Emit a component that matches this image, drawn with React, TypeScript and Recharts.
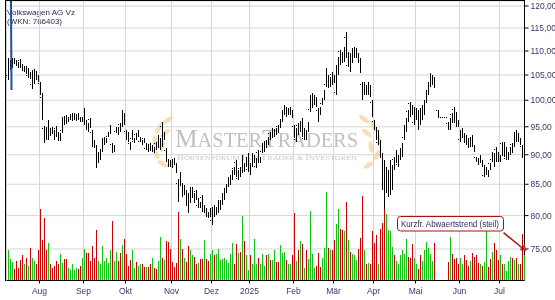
import React from 'react';
import {
  ComposedChart, Bar, Line, XAxis, YAxis, CartesianGrid, ReferenceLine, ReferenceDot,
} from 'recharts';

// Volkswagen AG Vz, daily bars [open, high, low, close]
const ohlc: (number[] | null)[] = [
  // Jul 2024
  [105.0, 108.5, 104.0, 107.6], [106.5, 108.1, 106.0, 107.7], [106.9, 108.5, 106.4, 108.0], [108.2, 108.5, 107.3, 107.6],
  [107.8, 108.1, 106.9, 107.2], [107.4, 107.7, 106.4, 106.7], [107.9, 108.3, 106.4, 106.8], [107.0, 107.3, 106.0, 106.3],
  [105.9, 106.9, 105.6, 106.6], [106.5, 106.9, 105.2, 105.6], [104.9, 106.4, 104.4, 105.9], [105.3, 105.6, 104.2, 104.6],
  [103.1, 106.0, 102.2, 105.2], [104.0, 106.2, 103.2, 105.5], [105.4, 105.8, 104.0, 104.5], [104.7, 105.0, 103.6, 103.9],
  // Aug
  [103.2, 103.6, 101.0, 101.6], [100.5, 101.4, 96.3, 97.0], [94.6, 95.1, 92.1, 92.8], [94.4, 94.9, 92.6, 93.1],
  [93.2, 96.3, 92.6, 95.6], [94.4, 94.7, 93.3, 93.7], [94.6, 94.9, 93.7, 94.0], [94.0, 94.4, 92.6, 93.0],
  [94.7, 95.1, 93.1, 93.5], [93.7, 94.0, 92.4, 92.8], [92.7, 93.9, 92.4, 93.5], [94.3, 96.6, 93.9, 96.1],
  [96.7, 97.0, 95.3, 95.7], [96.9, 97.2, 95.5, 95.9], [96.1, 96.8, 95.9, 96.6], [96.5, 97.4, 96.3, 97.2],
  [96.4, 97.6, 96.1, 97.3], [96.7, 97.6, 96.4, 97.4], [96.4, 97.2, 96.1, 96.9], [97.3, 97.6, 96.3, 96.6],
  [96.6, 96.8, 95.9, 96.1], [96.1, 96.8, 95.9, 96.6],
  // Sep
  [95.9, 98.5, 95.3, 98.0], [96.0, 96.3, 94.4, 94.8], [95.4, 95.7, 94.0, 94.4], [96.3, 96.6, 94.8, 95.1],
  [94.0, 94.4, 91.4, 91.9], [92.4, 92.6, 91.4, 91.7], [91.2, 91.7, 87.7, 88.3], [88.9, 90.5, 88.6, 90.1],
  [89.4, 90.8, 89.1, 90.5], [90.9, 93.0, 90.5, 92.6], [92.0, 93.1, 91.7, 92.9], [92.3, 93.0, 92.1, 92.8],
  [93.3, 94.0, 93.1, 93.8], [94.0, 95.3, 93.7, 95.0], [91.8, 92.1, 90.3, 90.6], [90.7, 91.7, 90.5, 91.4],
  [94.1, 94.9, 93.9, 94.7], [94.6, 94.9, 93.5, 93.8], [95.4, 95.7, 94.0, 94.3], [95.4, 98.1, 94.9, 97.6],
  [97.2, 97.6, 95.3, 95.7],
  // Okt
  [94.1, 94.4, 92.6, 93.0], [93.7, 94.0, 92.2, 92.5], [91.9, 92.2, 90.8, 91.1], [92.9, 94.4, 92.6, 94.0],
  [92.3, 93.0, 92.1, 92.8], [93.6, 93.9, 92.6, 92.9], [93.4, 94.4, 93.1, 94.1], [92.4, 93.1, 92.2, 92.9],
  [92.4, 92.6, 91.7, 91.9], [92.8, 93.0, 92.1, 92.3], [91.1, 92.1, 90.8, 91.8], [91.4, 91.7, 90.5, 90.8],
  [91.8, 92.1, 90.8, 91.1], [90.8, 91.7, 90.5, 91.4], [91.1, 91.3, 90.3, 90.5], [91.9, 92.2, 90.8, 91.1],
  [91.7, 93.5, 91.3, 93.1], [91.2, 93.0, 90.8, 92.6], [95.0, 95.9, 91.3, 92.0], [92.9, 94.0, 92.6, 93.7],
  [90.8, 91.2, 88.7, 89.1], [89.0, 89.3, 87.9, 88.2], [88.9, 89.1, 87.9, 88.1],
  // Nov
  [88.8, 89.1, 87.7, 88.0], [89.2, 89.5, 88.4, 88.7], [88.3, 88.6, 86.8, 87.1], [85.2, 85.9, 82.2, 82.8],
  [85.2, 87.0, 84.9, 86.6], [84.8, 85.2, 83.0, 83.4], [83.6, 84.9, 83.3, 84.6], [83.7, 84.1, 81.5, 82.0],
  [83.1, 83.6, 80.4, 81.0], [82.4, 84.5, 82.0, 84.1], [83.1, 84.5, 82.8, 84.2], [83.3, 83.6, 82.0, 82.3],
  [83.8, 84.1, 82.5, 82.8], [81.5, 82.8, 81.2, 82.5], [82.0, 82.2, 81.2, 81.4], [82.8, 83.3, 80.6, 81.0],
  [80.7, 81.7, 80.4, 81.5], [81.0, 81.2, 79.8, 80.1], [80.4, 80.6, 79.7, 79.9], [80.1, 81.2, 79.8, 80.9],
  // Dez
  [79.2, 81.4, 78.6, 80.9], [81.3, 81.7, 79.8, 80.2], [80.4, 81.4, 80.1, 81.1], [80.8, 82.5, 80.4, 82.1],
  [81.2, 82.5, 80.9, 82.2], [82.0, 83.6, 81.7, 83.3], [82.8, 84.4, 82.5, 84.1], [83.9, 84.9, 83.6, 84.7],
  [84.9, 86.2, 84.6, 85.9], [85.2, 86.5, 84.9, 86.2], [86.0, 87.4, 85.7, 87.1], [87.7, 87.9, 86.5, 86.8],
  [88.7, 89.1, 86.2, 86.7], [86.0, 87.4, 85.7, 87.1], [87.6, 87.9, 86.2, 86.5], [87.3, 90.0, 86.9, 89.6],
  [88.3, 88.6, 87.0, 87.3], [88.2, 89.6, 87.9, 89.3], [87.5, 90.3, 87.0, 89.9],
  // Jan 2025
  [88.3, 88.6, 86.5, 86.9], [88.3, 90.3, 87.9, 89.9], [88.9, 90.0, 88.6, 89.7], [88.0, 89.5, 87.7, 89.2],
  [90.4, 90.8, 88.6, 89.0], [88.8, 89.6, 88.6, 89.4], [90.6, 92.1, 90.3, 91.8], [90.8, 92.2, 90.5, 91.9],
  [92.3, 92.6, 91.1, 91.4], [92.0, 93.1, 91.7, 92.8], [93.7, 94.0, 92.6, 92.9], [93.3, 94.8, 93.0, 94.5],
  [93.4, 94.4, 93.1, 94.1], [94.5, 94.8, 93.5, 93.8], [95.0, 95.3, 93.9, 94.2], [95.1, 96.3, 94.8, 96.0],
  [96.3, 98.1, 95.9, 97.7], [97.5, 99.1, 97.2, 98.8], [98.4, 98.7, 96.8, 97.2], [97.4, 98.5, 97.2, 98.2],
  [97.5, 98.7, 97.2, 98.4], [97.8, 98.1, 96.6, 96.9],
  // Feb
  [95.0, 95.3, 93.0, 93.4], [92.6, 94.8, 92.2, 94.3], [95.3, 95.7, 93.5, 93.9], [94.3, 95.9, 94.0, 95.6],
  [96.0, 96.6, 93.1, 93.6], [92.9, 94.8, 92.6, 94.4], [94.1, 94.4, 92.6, 92.9], [94.3, 95.9, 94.0, 95.6],
  [98.2, 101.0, 97.8, 100.5], [99.0, 101.4, 98.5, 101.0], [99.4, 101.0, 99.1, 100.7], [100.3, 100.6, 98.7, 99.0],
  [98.0, 98.5, 95.9, 96.3], [98.4, 98.7, 97.2, 97.5], [99.3, 100.4, 99.1, 100.2], [100.4, 102.0, 100.1, 101.7],
  [103.0, 106.4, 102.6, 106.0], [104.6, 105.0, 102.4, 102.9], [102.9, 104.6, 102.6, 104.2], [105.2, 105.6, 103.0, 103.4],
  // Mär
  [104.8, 105.0, 103.4, 103.6], [101.6, 107.1, 101.0, 106.5], [105.4, 108.7, 105.0, 108.3], [109.8, 110.2, 107.1, 107.5],
  [109.4, 109.8, 107.5, 107.9], [108.1, 110.9, 107.7, 110.5], [113.0, 114.2, 108.5, 109.0], [107.0, 109.8, 106.7, 109.3],
  [109.0, 109.6, 105.6, 106.1], [108.0, 110.6, 107.5, 110.2], [108.9, 110.9, 108.5, 110.5], [108.9, 110.6, 108.5, 110.2],
  [109.2, 109.6, 107.5, 107.9], [108.0, 108.5, 105.4, 105.9], [103.1, 103.6, 100.1, 100.6], [101.4, 103.6, 101.0, 103.2],
  [102.7, 103.0, 101.0, 101.4], [101.4, 103.6, 101.0, 103.2], [102.6, 103.0, 100.6, 101.0], [99.6, 100.1, 96.8, 97.3],
  // Apr
  [96.0, 96.3, 94.4, 94.8], [94.5, 94.9, 92.6, 93.0], [92.2, 94.4, 91.7, 93.9], [92.1, 92.6, 89.6, 90.1],
  [89.5, 90.3, 84.1, 85.0], [88.0, 89.1, 80.7, 81.8], [84.2, 87.9, 83.6, 87.2], [83.6, 87.4, 83.0, 86.8],
  [84.0, 89.1, 83.3, 88.4], [84.6, 88.2, 84.1, 87.6], [89.2, 89.6, 87.4, 87.8], [89.0, 90.8, 88.6, 90.4],
  [88.3, 90.0, 87.9, 89.6], [89.5, 91.2, 89.1, 90.8], [90.0, 92.1, 89.6, 91.7], [93.0, 95.3, 92.6, 94.9],
  [94.4, 96.6, 94.0, 96.2], [97.8, 98.1, 95.9, 96.3], [99.3, 99.7, 96.8, 97.2], [98.8, 99.1, 97.2, 97.5],
  [95.8, 98.7, 95.3, 98.2],
  // Mai
  [96.6, 98.5, 96.3, 98.1], [97.5, 98.1, 94.4, 95.0], [98.0, 98.5, 95.3, 95.8], [96.7, 99.1, 96.3, 98.7],
  [97.6, 100.1, 97.2, 99.7], [99.9, 102.0, 99.5, 101.6], [101.4, 103.6, 101.0, 103.2], [103.0, 105.4, 102.6, 105.0],
  [103.3, 105.0, 103.0, 104.6], [104.2, 104.6, 102.4, 102.8], null, [98.0, 98.1, 96.8, 96.8],
  [96.8, 96.9, 96.8, 96.8], [96.8, 96.9, 96.8, 96.8], [96.8, 96.9, 96.8, 96.8], [96.8, 96.9, 96.8, 96.8],
  [95.6, 95.9, 94.4, 94.7], [94.8, 96.6, 94.4, 96.2], [97.2, 97.6, 95.7, 96.0], [98.2, 98.7, 95.7, 96.2],
  [97.3, 97.8, 94.9, 95.3], [96.0, 96.3, 94.9, 95.2],
  // Jun
  [92.6, 94.4, 92.2, 94.0], [93.3, 94.8, 93.0, 94.5], [93.6, 93.9, 92.1, 92.4], [93.2, 93.5, 91.7, 92.0],
  [92.7, 93.0, 91.2, 91.5], [91.6, 93.1, 91.3, 92.8], [93.1, 93.5, 91.3, 91.7], [91.5, 91.7, 90.5, 90.8],
  [89.5, 89.6, 88.8, 89.0], [89.3, 89.5, 88.2, 88.4], [88.8, 90.0, 88.6, 89.7], [88.9, 89.1, 87.9, 88.1],
  [86.5, 88.2, 86.2, 87.8], [86.7, 87.9, 86.5, 87.6], [87.2, 87.4, 86.2, 86.4], [88.4, 88.6, 87.4, 87.6],
  [89.1, 90.5, 88.8, 90.2], [90.0, 90.3, 87.9, 88.2], [91.0, 91.3, 88.8, 89.1], [90.2, 90.5, 88.8, 89.1],
  // Jul
  [89.0, 90.0, 88.8, 89.8], [91.9, 92.2, 90.0, 90.3], [89.9, 92.2, 89.6, 91.8], [89.4, 91.3, 89.1, 91.0],
  [89.3, 90.5, 89.1, 90.2], [90.2, 91.3, 90.0, 91.1], [91.8, 92.1, 90.3, 90.6], [91.6, 94.0, 91.3, 93.6],
  [94.0, 94.4, 92.2, 92.6], [92.5, 93.9, 92.2, 93.6], [92.8, 93.0, 91.7, 92.0], [91.4, 91.7, 89.5, 89.8],
  [90.2, 91.2, 90.0, 91.0],
];

// daily volume, thousand shares
const volumes: (number | null)[] = [
  1240, 880, 760, 480, 800, 520, 840, 1000, 640, 920, 600, 1320, 920, 800, 680, 1200,
  2880, 1640, 2520, 1240, 1520, 680, 520, 600, 800, 640, 1080, 720, 880, 880, 520, 440, 640, 440, 520, 480, 600, 920,
  1280, 1120, 1120, 800, 1400, 920, 2040, 800, 680, 1400, 800, 920, 720, 1200, 2360, 800, 1160, 800, 1120, 1440, 1680,
  1080, 600, 840, 1240, 520, 760, 600, 680, 680, 560, 560, 560, 640, 920, 520, 480, 800, 1760, 920, 840, 1600, 1560, 1280,
  760, 560, 720, 2760, 1680, 1280, 920, 760, 1400, 1240, 1000, 960, 640, 720, 880, 880, 1640, 880, 800, 1080,
  1240, 1040, 1080, 1280, 840, 880, 920, 840, 720, 1080, 1520, 680, 1480, 1120, 1160, 2600, 1600, 1000, 440,
  1040, 640, 1680, 640, 920, 680, 1080, 600, 1000, 1080, 840, 840, 1240, 760, 760, 1440, 1120, 1160, 840, 680, 680, 1000,
  2720, 800, 1200, 1600, 1480, 520, 1240, 880, 2800, 1080, 520, 600, 1120, 560, 920, 1320, 3520, 1320, 1240, 1240,
  1640, 2280, 2880, 2080, 2040, 2000, 3120, 1640, 1160, 1080, 1040, 840, 1280, 1720, 3400, 1240, 680, 720, 680, 1960,
  1520, 1840, 680, 2080, 2320, 2880, 2680, 2040, 2000, 1360, 1000, 800, 680, 1000, 1200, 1080, 1680, 960, 920, 1480, 920,
  680, 480, 1040, 800, 1240, 1560, 1320, 1080, 800, 1520, null, null, null, null, null, null, 760, 1760, 1080, 880, 920, 640,
  920, 680, 1040, 840, 600, 800, 1120, 960, 1000, 720, 680, 600, 760, 1960, 560, 880, 1160, 1520, 1240, 840,
  1000, 640, 680, 400, 800, 960, 920, 840, 920, 680, 640, 1880, 1000,
];

const monthStarts = [16, 38, 59, 82, 102, 121, 143, 163, 183, 204, 226, 246];
const monthLabels = ['Aug', 'Sep', 'Okt', 'Nov', 'Dez', '2025', 'Feb', 'Mär', 'Apr', 'Mai', 'Jun', 'Jul'];
const priceTicks = [75, 80, 85, 90, 95, 100, 105, 110, 115, 120];

// drawn lines, in chart values (day index, price)
const trendLine = [{ x: 2, y: 102 }, { x: 1, y: 204 }];
const alertLine = [{ x: 248, y: 77.4 }, { x: 258, y: 75.0 }];

const UP = '#14c414';
const DOWN = '#cc0000';

const days = ohlc.map((b, i) => ({
  day: i,
  open: b ? b[0] : null,
  close: b ? b[3] : null,
  range: b ? [b[2], b[1]] : null,
  volume: volumes[i],
  color: b && b[3] < b[0] ? DOWN : UP,
}));

const PriceBar = (props: any) => {
  const { x, y, width, height, payload } = props;
  if (!payload || !payload.range || y == null) return null;
  const cx = Math.floor(x + width / 2);
  const top = Math.round(Math.min(y, y + height));
  const bottom = Math.round(Math.max(y, y + height));
  return <rect x={cx} y={top} width={1} height={Math.max(1, bottom - top)} fill="#000" />;
};

const VolumeBar = (props: any) => {
  const { x, y, width, height, payload } = props;
  if (!payload || payload.volume == null || y == null) return null;
  const cx = Math.floor(x + width / 2);
  const top = Math.round(y);
  const bottom = Math.floor(y + height);
  return <rect x={cx} y={top} width={1} height={Math.max(1, bottom - top)} fill={payload.color} />;
};

const OpenTick = (props: any) => {
  const { cx, cy, key } = props;
  if (cx == null || cy == null || isNaN(cy)) return <g key={key} />;
  return <rect key={key} x={Math.floor(cx) - 1} y={Math.floor(cy)} width={1} height={1} fill="#000" />;
};

const CloseTick = (props: any) => {
  const { cx, cy, key } = props;
  if (cx == null || cy == null || isNaN(cy)) return <g key={key} />;
  return <rect key={key} x={Math.floor(cx) + 1} y={Math.floor(cy)} width={1} height={1} fill="#000" />;
};

const Arrowhead = (props: any) => {
  const { cx, cy } = props;
  return <polygon points={`${cx + 3},${cy + 2} ${cx - 4},${cy + 1} ${cx + 1},${cy - 5}`} fill="#c0302a" />;
};

const axisFont = { fill: '#383868', fontSize: 8.5, fontFamily: 'Liberation Sans, Arial, sans-serif' };
const serif = 'Liberation Serif, DejaVu Serif, serif';
const margin = { top: 1, right: 0, bottom: 0, left: 1.5 };

const Leaf = ({ x, y, r }: { x: number; y: number; r: number }) => (
  <ellipse cx={x} cy={y} rx={6} ry={2.4} transform={`rotate(${r} ${x} ${y})`} />
);

const layer = (z: number): React.CSSProperties => ({ position: 'absolute', left: 0, top: 0, zIndex: z });

export default function App() {
  return (
    <div style={{ position: 'relative', width: 555, height: 300 }}>
      <style>{'body{margin:0}'}</style>
      <svg width={555} height={300} style={layer(0)}>
        <g fill="#f6d9a8" opacity={0.85}>
          <Leaf x={168} y={120} r={-35} />
          <Leaf x={159} y={128} r={-60} />
          <Leaf x={165} y={133} r={-40} />
          <Leaf x={155} y={141} r={-90} />
          <Leaf x={162} y={146} r={-80} />
          <Leaf x={156} y={154} r={60} />
          <Leaf x={163} y={164} r={30} />
          <Leaf x={364} y={119} r={35} />
          <Leaf x={374} y={127} r={60} />
          <Leaf x={367} y={133} r={40} />
          <Leaf x={379} y={141} r={90} />
          <Leaf x={371} y={147} r={80} />
          <Leaf x={377} y={155} r={-60} />
          <Leaf x={369} y={165} r={-30} />
        </g>
        <text x={175} y={147} fontFamily={serif} fill="#c0c0c0" textLength={183} lengthAdjust="spacingAndGlyphs">
          <tspan fontSize={25}>M</tspan><tspan fontSize={20}>ASTER</tspan>
          <tspan fontSize={25}>T</tspan><tspan fontSize={20}>RADERS</tspan>
        </text>
        <text x={177} y={160} fontFamily={serif} fill="#cacaca" textLength={180} lengthAdjust="spacingAndGlyphs">
          <tspan fontSize={9}>B</tspan><tspan fontSize={7}>ÖRSENFORUM </tspan>
          <tspan fontSize={9}>F</tspan><tspan fontSize={7}>ÜR </tspan>
          <tspan fontSize={9}>T</tspan><tspan fontSize={7}>RADER &amp; </tspan>
          <tspan fontSize={9}>I</tspan><tspan fontSize={7}>NVESTOREN</tspan>
        </text>
        <text x={7} y={15} fontSize={8} fill="#2a2a50" fontFamily="Liberation Sans, Arial, sans-serif"
          textLength={68} lengthAdjust="spacingAndGlyphs">Volkswagen AG Vz</text>
        <text x={7} y={23.5} fontSize={8} fill="#2a2a50" fontFamily="Liberation Sans, Arial, sans-serif"
          textLength={55} lengthAdjust="spacingAndGlyphs">(WKN: 766403)</text>
      </svg>

      {/* price chart: grid, axes, OHLC bars and drawn lines */}
      <div style={layer(1)}>
        <ComposedChart width={555} height={300} data={days} margin={margin}>
          <CartesianGrid stroke="#d6d6d6" />
          <XAxis
            dataKey="day"
            type="category"
            ticks={monthStarts}
            interval={0}
            tickFormatter={(v) => monthLabels[monthStarts.indexOf(v)]}
            height={19.5}
            tickSize={3}
            tickMargin={4}
            axisLine={{ stroke: '#000' }}
            tickLine={{ stroke: '#000' }}
            tick={axisFont}
          />
          <YAxis
            orientation="right"
            scale="log"
            domain={[70.56, 121.17]}
            allowDataOverflow
            ticks={priceTicks}
            interval={0}
            width={30.5}
            tickSize={4}
            tickMargin={2}
            tickFormatter={(v) => v.toFixed(2).replace('.', ',')}
            axisLine={{ stroke: '#000' }}
            tickLine={{ stroke: '#000' }}
            tick={axisFont}
          />
          <YAxis yAxisId="left" orientation="left" width={5} tick={false} tickLine={false} axisLine={false} />
          <Bar dataKey="range" barSize={1} shape={PriceBar} isAnimationActive={false} />
          <Line dataKey="open" stroke="none" dot={OpenTick} activeDot={false} legendType="none" isAnimationActive={false} />
          <Line dataKey="close" stroke="none" dot={CloseTick} activeDot={false} legendType="none" isAnimationActive={false} />
          <ReferenceLine segment={trendLine} stroke="#1f4f9f" strokeWidth={2} ifOverflow="hidden" />
          <ReferenceLine segment={alertLine} stroke="#a31515" strokeWidth={1.5} />
          <ReferenceDot x={258} y={75} r={3} shape={Arrowhead} />
        </ComposedChart>
      </div>

      {/* volume chart, same plot frame */}
      <div style={{ ...layer(2), pointerEvents: 'none' }}>
        <ComposedChart width={555} height={300} data={days} margin={margin}>
          <XAxis dataKey="day" type="category" height={19.5} tick={false} tickLine={false} axisLine={false} />
          <YAxis orientation="left" domain={[0, 11180]} allowDataOverflow width={5} tick={false}
            tickLine={false} axisLine={false} />
          <YAxis yAxisId="pad" orientation="right" width={30.5} tick={false} tickLine={false} axisLine={false} />
          <Bar dataKey="volume" barSize={1} shape={VolumeBar} isAnimationActive={false} />
        </ComposedChart>
      </div>

      <svg width={555} height={300} style={{ ...layer(3), pointerEvents: 'none' }}>
        <line x1={5} x2={525} y1={0.5} y2={0.5} stroke="#000" />
        <line x1={5.5} x2={5.5} y1={0} y2={281} stroke="#000" />
        <rect x={397.5} y={216.5} width={106} height={14.5} rx={3} fill="#fff" stroke="#a31515" />
        <text x={401} y={227} fontSize={8.5} fill="#2c2c5a" fontFamily="Liberation Sans, Arial, sans-serif"
          textLength={98} lengthAdjust="spacingAndGlyphs">Kurzfr. Abwaertstrend (steil)</text>
      </svg>
    </div>
  );
}
